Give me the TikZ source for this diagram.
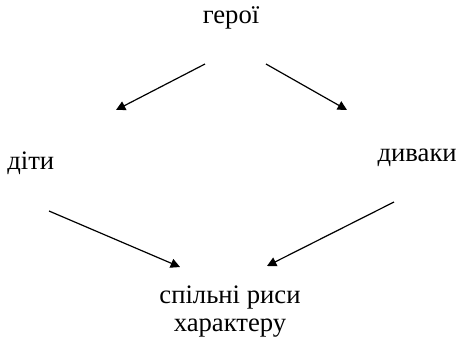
\documentclass[tikz,border=0pt]{standalone}
\usepackage{fontspec}
\setmainfont{Liberation Serif}
\usetikzlibrary{arrows.meta}
\begin{document}
\begin{tikzpicture}[x=0.75pt,y=-0.75pt,
  lbl/.style={inner sep=0pt,font=\fontsize{20}{21}\selectfont,align=center},
  link/.style={line width=0.9pt,-{Triangle[width=7pt,length=7pt]}}]
\useasboundingbox (0,0) rectangle (458,340);
\node[lbl] (heroes) at (231,18) {герої};
\node[lbl,anchor=west] (kids) at (7,163) {діти};
\node[lbl,anchor=east] (odd) at (457,158) {диваки};
\node[lbl] (traits) at (230,312) {спільні риси\\характеру};
% arrow ends
\coordinate (a1s) at (205,64);  \coordinate (a1e) at (116,110);
\coordinate (a2s) at (266,64);  \coordinate (a2e) at (347,110);
\coordinate (a3s) at (49,211);  \coordinate (a3e) at (180,267);
\coordinate (a4s) at (394,202); \coordinate (a4e) at (267,266);
\draw[link] (a1s) -- (a1e);
\draw[link] (a2s) -- (a2e);
\draw[link] (a3s) -- (a3e);
\draw[link] (a4s) -- (a4e);
\end{tikzpicture}
\end{document}
